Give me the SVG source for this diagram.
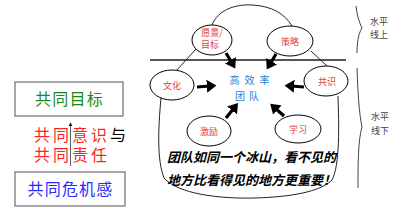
<svg xmlns="http://www.w3.org/2000/svg" width="412" height="215" viewBox="0 0 412 215">
<style>
.cjk{font-family:"Noto Sans CJK SC","Noto Sans",sans-serif}
.box{fill:#fff;stroke:#8a8a8a;stroke-width:1.5}
.ell{fill:#fff;stroke:#000;stroke-width:1}
.lab{font-size:9px;fill:#e23a3a;text-anchor:middle}
.ln{fill:none;stroke:#222;stroke-width:1}
.arr{stroke:#000;stroke-width:3.2;marker-end:url(#ah)}
.brace{fill:none;stroke:#444;stroke-width:1}
.side{font-size:9px;fill:#444}
</style>
<defs>
<marker id="ah" markerWidth="4" markerHeight="4" refX="1" refY="2" orient="auto" markerUnits="strokeWidth">
<path d="M0,0 L3,2 L0,4 z" fill="#000"/>
</marker>
<marker id="sa" markerWidth="6" markerHeight="6" refX="3" refY="3" orient="auto">
<path d="M0,0.5 L5,3 L0,5.5 z" fill="#000"/>
</marker>
</defs>
<rect width="412" height="215" fill="#fff"/>

<g id="goal">
<rect class="box" x="15" y="82" width="108" height="34"/>
<text class="cjk" x="69.5" y="105" font-size="16" letter-spacing="1.3" fill="#1a8a1a" text-anchor="middle">共同目标</text>
</g>
<g id="awareness">
<text class="cjk" x="34" y="141" font-size="16" letter-spacing="3" fill="#ff2424">共同意识<tspan fill="#000">与</tspan></text>
<text class="cjk" x="34" y="161" font-size="16" letter-spacing="3" fill="#ff2424">共同责任</text>
</g>
<g id="crisis">
<rect class="box" x="15" y="172" width="110" height="34"/>
<text class="cjk" x="70.5" y="195" font-size="16" letter-spacing="1.2" fill="#2a2aff" text-anchor="middle">共同危机感</text>
</g>

<g id="connectors">
<line x1="70.5" y1="166" x2="70.5" y2="124" stroke="#333" stroke-width="0.8" marker-end="url(#sa)"/>
<line x1="150" y1="60" x2="346" y2="60" stroke="#555" stroke-width="2"/>
<path class="ln" d="M212,25 C218,10 235,4 252,5 C272,6 285,14 292,26"/>
<path class="ln" d="M196,49 L176,71"/>
<path class="ln" d="M311,51 L327,66"/>
<path class="ln" d="M161,98 C158,130 157,160 164,178 C178,194 220,199 255,198 C290,197 320,192 332,180 C340,165 339,125 338,96"/>
<line class="arr" x1="226" y1="53" x2="232" y2="63"/>
<line class="arr" x1="276" y1="54" x2="270" y2="64"/>
<line class="arr" x1="197" y1="87" x2="210" y2="86"/>
<line class="arr" x1="304" y1="87" x2="291" y2="86"/>
<line class="arr" x1="226" y1="118" x2="234" y2="108"/>
<line class="arr" x1="284" y1="116" x2="275" y2="108"/>
<path class="brace" d="M356,6 C357,15 359,22 362,28 C358,34 357,44 357,53"/>
<path class="brace" d="M357,68 C358,95 359,112 362,127 C358,140 358,165 358,188"/>
</g>

<g id="vision">
<ellipse class="ell" cx="212" cy="40" rx="20" ry="15"/>
<text class="cjk lab" x="212" y="36" font-size="8.5">愿景/</text>
<text class="cjk lab" x="210" y="48" font-size="8.5">目标</text>
</g>
<g id="strategy">
<ellipse class="ell" cx="290" cy="41" rx="23" ry="15"/>
<text class="cjk lab" x="290" y="45">策略</text>
</g>
<g id="culture">
<ellipse class="ell" cx="172" cy="85" rx="22" ry="15"/>
<text class="cjk lab" x="172" y="89">文化</text>
</g>
<g id="consensus">
<ellipse class="ell" cx="326" cy="81" rx="22" ry="15"/>
<text class="cjk lab" x="327" y="85">共识</text>
</g>
<g id="incentive">
<ellipse class="ell" cx="209" cy="131" rx="22" ry="15"/>
<text class="cjk lab" x="209" y="135">激励</text>
</g>
<g id="learning">
<ellipse class="ell" cx="298" cy="129" rx="23" ry="14"/>
<text class="cjk lab" x="298" y="133">学习</text>
</g>
<g id="team">
<text class="cjk" x="252" y="84" font-size="10" letter-spacing="5" fill="#1f7fd6" text-anchor="middle">高效率</text>
<text class="cjk" x="249" y="100" font-size="10" letter-spacing="4" fill="#1f7fd6" text-anchor="middle">团队</text>
</g>
<g id="iceberg-note">
<text class="cjk" x="167" y="162" font-size="13" font-weight="bold" font-style="italic" fill="#000">团队如同一个冰山，看不见的</text>
<text class="cjk" x="167" y="185" font-size="13" font-weight="bold" font-style="italic" fill="#000">地方比看得见的地方更重要！</text>
</g>
<g id="above-label">
<text class="cjk side" x="370" y="25">水平</text>
<text class="cjk side" x="370" y="38">线上</text>
</g>
<g id="below-label">
<text class="cjk side" x="371" y="120">水平</text>
<text class="cjk side" x="371" y="134">线下</text>
</g>
</svg>
